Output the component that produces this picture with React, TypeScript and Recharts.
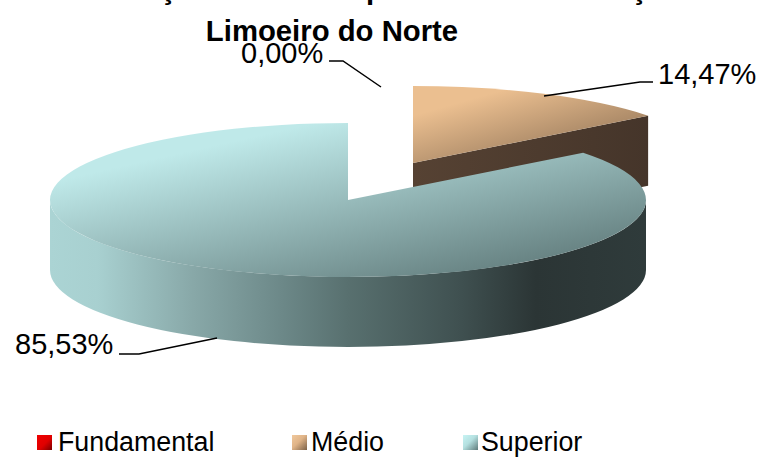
import React from "react";
import { PieChart, Pie, Legend } from "recharts";

const categories = ["Fundamental", "Médio", "Superior"];
const shares = [0.0, 14.47, 85.53];
const valueLabels = ["0,00%", "14,47%", "85,53%"];
const titleText = "Limoeiro do Norte";
const clippedTitleGlyphs = [
  { text: "ç", x: 168 },
  { text: "p", x: 375 },
  { text: "ç", x: 639 },
];

const chartData = categories.map((name, i) => ({ name, value: shares[i], text: valueLabels[i] }));

const FONT = "'Liberation Sans', Arial, sans-serif";
const TILT = 77 / 298;
const DEPTH = 70;
const OFFSETS: Record<string, { dx: number; dy: number }> = { Médio: { dx: 65, dy: -37 } };

const TOP_STOPS: Record<string, string[]> = {
  Fundamental: ["#ff0000", "#800000"],
  Médio: ["#ebbf90", "#84694f"],
  Superior: ["#bfe9e9", "#5a7373"],
};
const LEGEND_BG: Record<string, string> = {
  Fundamental: "linear-gradient(135deg,#f00000,#e00000 55%,#7a0000)",
  Médio: "linear-gradient(135deg,#f0c89c,#e0b488 45%,#7c6249)",
  Superior: "linear-gradient(135deg,#c8f4f4,#b4e0e0 45%,#5f7b7b)",
};
const LEGEND_X: Record<string, number[]> = {
  Fundamental: [37, 58],
  Médio: [292, 311],
  Superior: [463, 481],
};
const LEADERS: Record<string, { pts: number[][]; x: number; y: number }> = {
  Fundamental: { pts: [[381, 87], [343, 61], [329, 61]], x: 241, y: 63 },
  Médio: { pts: [[544, 96], [640, 82], [653, 82]], x: 658, y: 84 },
  Superior: { pts: [[217, 338], [139, 354], [119, 354]], x: 15, y: 354 },
};

const rad = (d: number) => (d * Math.PI) / 180;

function Slice3D(props: any) {
  const { cx, cy, outerRadius: r, startAngle, endAngle, name, payload } = props;
  const key: string = name ?? payload?.name;
  if (startAngle === endAngle) return <g />;
  const off = OFFSETS[key] ?? { dx: 0, dy: 0 };
  const X = cx + off.dx;
  const Y = cy + off.dy;
  const ry = r * TILT;
  const S = Math.max(startAngle, endAngle);
  const E = Math.min(startAngle, endAngle);
  const px = (a: number) => X + r * Math.cos(rad(a));
  const py = (a: number) => Y - ry * Math.sin(rad(a));
  const id = `g${categories.indexOf(key)}`;
  const walls: React.ReactNode[] = [];
  // outer wall, only where the rim faces the viewer
  [-1, 0].forEach((k) => {
    const lo = Math.max(E, -180 + 360 * k);
    const hi = Math.min(S, 360 * k);
    if (hi > lo) {
      walls.push(
        <path
          key={`o${k}`}
          fill={`url(#${id}s)`}
          d={`M${px(lo)},${py(lo)} A${r},${ry} 0 0 0 ${px(hi)},${py(hi)} L${px(hi)},${py(hi) + DEPTH} A${r},${ry} 0 0 1 ${px(lo)},${py(lo) + DEPTH} Z`}
        />
      );
    }
  });
  // cut faces
  const cut = (a: number, k: string) => (
    <path
      key={k}
      fill={`url(#${id}c)`}
      d={`M${X},${Y} L${px(a)},${py(a)} L${px(a)},${py(a) + DEPTH} L${X},${Y + DEPTH} Z`}
    />
  );
  if (Math.cos(rad(E)) > 1e-6) walls.push(cut(E, "e"));
  if (Math.cos(rad(S)) < -1e-6) walls.push(cut(S, "s"));
  const large = S - E > 180 ? 1 : 0;
  const stops = TOP_STOPS[key];
  return (
    <g>
      <defs>
        <linearGradient id={`${id}t`} x1="0.1" y1="0.05" x2="0.92" y2="1">
          <stop offset="0" stopColor={stops[0]} />
          <stop offset="0.15" stopColor={stops[0]} />
          <stop offset="1" stopColor={stops[1]} />
        </linearGradient>
        <linearGradient id={`${id}s`} gradientUnits="userSpaceOnUse" x1={cx - r} x2={cx + r} y1="0" y2="0">
          <stop offset="0" stopColor="#abd4d4" />
          <stop offset="0.08" stopColor="#a8d0d0" />
          <stop offset="0.24" stopColor="#88a8a8" />
          <stop offset="0.39" stopColor="#6c8888" />
          <stop offset="0.5" stopColor="#58706f" />
          <stop offset="0.69" stopColor="#3f5050" />
          <stop offset="0.815" stopColor="#2b3535" />
          <stop offset="1" stopColor="#2f3b3b" />
        </linearGradient>
        <linearGradient id={`${id}c`} x1="0" x2="1" y1="0" y2="0">
          <stop offset="0" stopColor="#564233" />
          <stop offset="1" stopColor="#45352a" />
        </linearGradient>
      </defs>
      {walls}
      <path
        fill={`url(#${id}t)`}
        d={`M${X},${Y} L${px(S)},${py(S)} A${r},${ry} 0 ${large} 1 ${px(E)},${py(E)} Z`}
      />
    </g>
  );
}

function LeaderLabel(props: any) {
  const key: string = props.name ?? props.payload?.name;
  const spec = LEADERS[key];
  const entry = chartData.find((d) => d.name === key);
  if (!spec || !entry) return <g />;
  return (
    <g>
      <polyline
        points={spec.pts.map((p) => p.join(",")).join(" ")}
        fill="none"
        stroke="#000"
        strokeWidth={1.5}
      />
      <text x={spec.x} y={spec.y} fontFamily={FONT} fontSize={29} fill="#000">
        {entry.text}
      </text>
    </g>
  );
}

function LegendContent() {
  return (
    <div style={{ position: "relative", width: 760, height: 32, fontFamily: FONT, fontSize: 26.8, color: "#000" }}>
      {categories.map((c) => (
        <React.Fragment key={c}>
          <span
            style={{
              position: "absolute",
              left: LEGEND_X[c][0],
              top: 10,
              width: 15,
              height: 15,
              background: LEGEND_BG[c],
            }}
          />
          <span style={{ position: "absolute", left: LEGEND_X[c][1], top: 1, lineHeight: "32px", whiteSpace: "nowrap" }}>
            {c}
          </span>
        </React.Fragment>
      ))}
    </div>
  );
}

export default function App() {
  return (
    <div style={{ position: "absolute", left: 0, top: 0, width: 760, height: 457, background: "#fff" }}>
      <PieChart width={760} height={457} margin={{ top: 0, right: 0, bottom: 0, left: 0 }}>
        <Pie
          data={chartData}
          dataKey="value"
          nameKey="name"
          cx={348}
          cy={200}
          innerRadius={0}
          outerRadius={298}
          startAngle={90}
          endAngle={-270}
          stroke="none"
          isAnimationActive={false}
          shape={Slice3D}
          label={LeaderLabel}
          labelLine={false}
        />
        <Legend content={LegendContent} wrapperStyle={{ left: 0, top: 425, width: 760, height: 32 }} />
        <text x={332} y={41} textAnchor="middle" fontFamily={FONT} fontWeight="bold" fontSize={29.3} fill="#000">
          {titleText}
        </text>
        {clippedTitleGlyphs.map((g) => (
          <text key={g.x} x={g.x} y={-1} textAnchor="middle" fontFamily={FONT} fontWeight="bold" fontSize={29.3} fill="#000">
            {g.text}
          </text>
        ))}
      </PieChart>
    </div>
  );
}
